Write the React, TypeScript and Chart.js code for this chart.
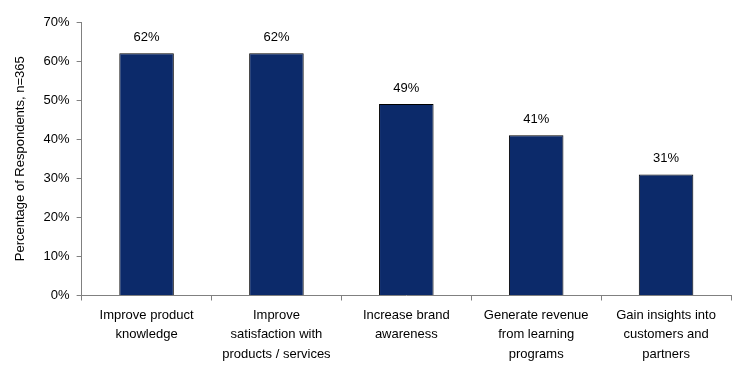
import React, { useEffect, useRef } from "react";
import { Chart, registerables } from "chart.js";

Chart.register(...registerables);

const categories: string[][] = [
  ["Improve product", "knowledge"],
  ["Improve", "satisfaction with", "products / services"],
  ["Increase brand", "awareness"],
  ["Generate revenue", "from learning", "programs"],
  ["Gain insights into", "customers and", "partners"],
];
const values: number[] = [62, 62, 49, 41, 31];
const yTicks: number[] = [0, 10, 20, 30, 40, 50, 60, 70];
const yTitle = "Percentage of Respondents, n=365";

const FONT = "'Liberation Sans', Arial, sans-serif";

const labelPlugin = {
  id: "valueLabels",
  afterDatasetsDraw(chart: any) {
    const ctx = chart.ctx;
    const meta = chart.getDatasetMeta(0);
    ctx.save();
    ctx.font = `13px ${FONT}`;
    ctx.fillStyle = "#000";
    ctx.textAlign = "center";
    ctx.textBaseline = "bottom";
    meta.data.forEach((el: any, i: number) => {
      ctx.fillText(values[i] + "%", el.x, el.y - 9);
    });
    ctx.restore();
  },
};

export default function App() {
  const ref = useRef<HTMLCanvasElement>(null);
  useEffect(() => {
    document.body.style.margin = "0";
    const chart = new Chart(ref.current!, {
      type: "bar",
      data: {
        labels: categories,
        datasets: [
          {
            data: values,
            backgroundColor: "#0c2a6a",
            borderColor: "#000",
            borderWidth: 1,
            categoryPercentage: 1,
            barPercentage: 0.42,
          },
        ],
      },
      options: {
        animation: false,
        responsive: false,
        maintainAspectRatio: false,
        layout: { padding: { left: 13, right: 17, top: 22, bottom: 8 } },
        plugins: { legend: { display: false }, tooltip: { enabled: false } },
        scales: {
          x: {
            grid: {
              offset: true,
              drawOnChartArea: false,
              drawTicks: true,
              tickLength: 5,
              color: "#808080",
            },
            border: { display: true, color: "#808080" },
            ticks: {
              color: "#000",
              font: { family: FONT, size: 13, lineHeight: 1.5 },
              maxRotation: 0,
              autoSkip: false,
              padding: 5,
            },
          },
          y: {
            min: 0,
            max: 70,
            afterBuildTicks: (axis: any) => {
              axis.ticks = yTicks.map((v) => ({ value: v }));
            },
            grid: {
              drawOnChartArea: false,
              drawTicks: true,
              tickLength: 5,
              color: "#808080",
            },
            border: { display: true, color: "#808080" },
            ticks: {
              color: "#000",
              font: { family: FONT, size: 13 },
              padding: 7,
              callback: (v: any) => v + "%",
            },
            title: {
              display: true,
              text: yTitle,
              color: "#000",
              font: { family: FONT, size: 13 },
              padding: { top: 0, bottom: 8 },
            },
          },
        },
      },
      plugins: [labelPlugin],
    });
    return () => chart.destroy();
  }, []);
  return (
    <div style={{ width: 748, height: 377 }}>
      <canvas ref={ref} width={748} height={377} style={{ display: "block" }} />
    </div>
  );
}
